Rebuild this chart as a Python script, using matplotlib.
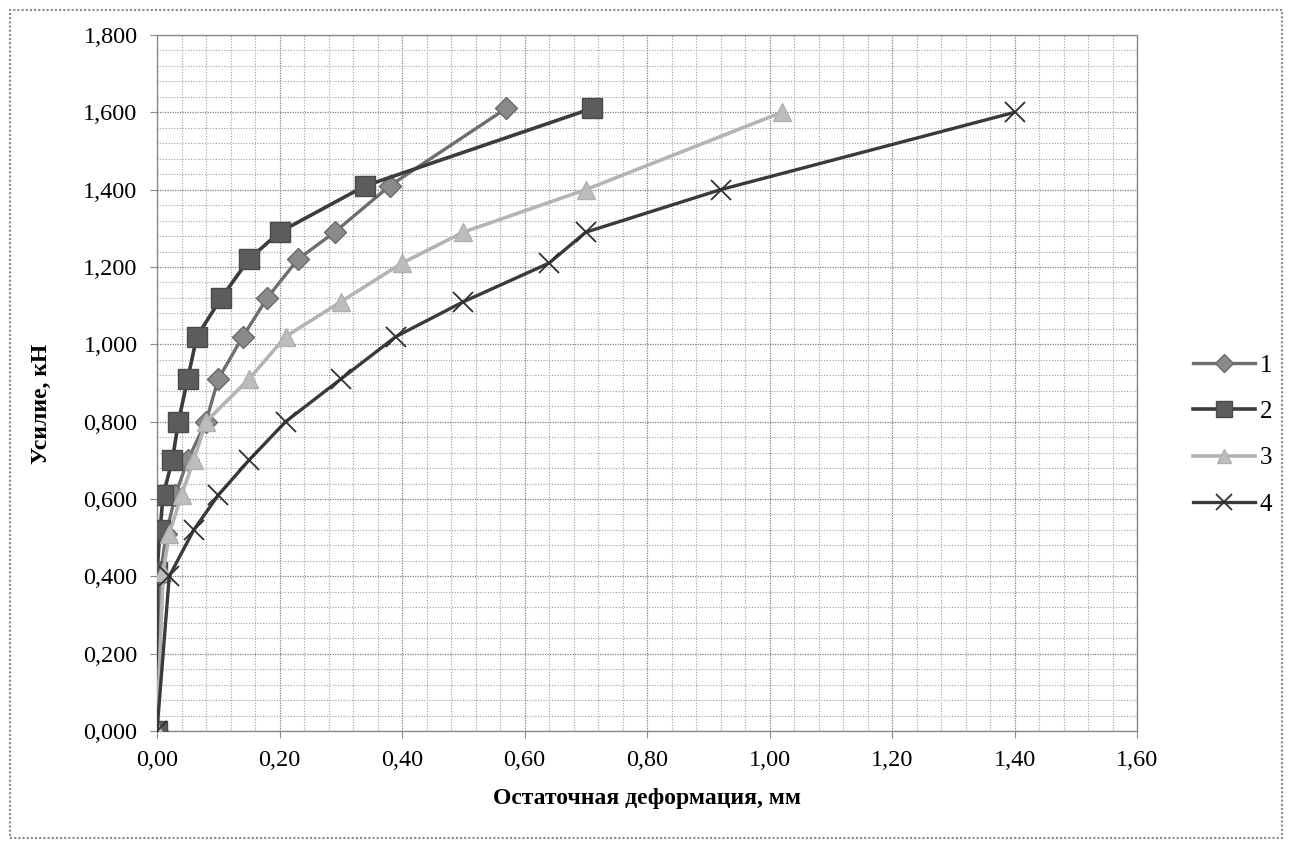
import matplotlib
matplotlib.use("Agg")
import matplotlib.pyplot as plt
from matplotlib.ticker import MultipleLocator, FuncFormatter
from matplotlib.patches import Rectangle

plt.rcParams['font.family'] = ['Liberation Serif', 'DejaVu Serif']

# data
x1 = [0, 0.005, 0.015, 0.03, 0.05, 0.08, 0.10, 0.14, 0.18, 0.23, 0.29, 0.38, 0.57]
y1 = [0, 0.40, 0.51, 0.61, 0.70, 0.80, 0.91, 1.02, 1.12, 1.22, 1.29, 1.41, 1.61]
x2 = [0, 0.0, 0.005, 0.01, 0.025, 0.035, 0.05, 0.065, 0.105, 0.15, 0.20, 0.34, 0.71]
y2 = [0, 0.41, 0.52, 0.61, 0.70, 0.80, 0.91, 1.02, 1.12, 1.22, 1.29, 1.41, 1.61]
x3 = [0, 0.01, 0.02, 0.04, 0.06, 0.08, 0.15, 0.21, 0.30, 0.40, 0.50, 0.70, 1.02]
y3 = [0, 0.41, 0.51, 0.61, 0.70, 0.80, 0.91, 1.02, 1.11, 1.21, 1.29, 1.40, 1.60]
x4 = [0, 0.02, 0.06, 0.10, 0.15, 0.21, 0.30, 0.39, 0.50, 0.64, 0.70, 0.92, 1.40]
y4 = [0, 0.40, 0.52, 0.61, 0.70, 0.80, 0.91, 1.02, 1.11, 1.21, 1.29, 1.40, 1.60]
labels = ['1', '2', '3', '4']

fig = plt.figure(figsize=(12.89, 8.46), dpi=100)
ax = fig.add_axes([157/1289, 1-731/846, (1137-157)/1289, (731-35)/846])

ax.plot(x1, y1, color='#6e6e6e', lw=2.4, marker='D', ms=11, mfc='#8a8a8a', mec='#6a6a6a', label=labels[0], zorder=3)
ax.plot(x2, y2, color='#3c3c3c', lw=2.6, marker='s', ms=14, mfc='#5c5c5c', mec='#4a4a4a', label=labels[1], zorder=3)
ax.plot(x3, y3, color='#b4b4b4', lw=2.6, marker='^', ms=13, mfc='#bdbdbd', mec='#b0b0b0', label=labels[2], zorder=3)
ax.plot(x4, y4, color='#3a3a3a', lw=2.4, marker='x', ms=15, mew=1.3, mec='#303030', label=labels[3], zorder=3)

ax.set_xlim(0, 1.6)
ax.set_ylim(0, 1.8)
ax.xaxis.set_major_locator(MultipleLocator(0.2))
ax.xaxis.set_minor_locator(MultipleLocator(0.04))
ax.yaxis.set_major_locator(MultipleLocator(0.2))
ax.yaxis.set_minor_locator(MultipleLocator(0.04))
ax.xaxis.set_major_formatter(FuncFormatter(lambda v, p: f"{v:.2f}".replace('.', ',')))
ax.yaxis.set_major_formatter(FuncFormatter(lambda v, p: f"{v:.3f}".replace('.', ',')))

ax.grid(which='major', color='#808080', lw=0.9, linestyle=(0, (1, 1)))
ax.grid(which='minor', color='#a0a0a0', lw=0.8, linestyle=(0, (1, 1.5)))
ax.set_axisbelow(True)
for s in ax.spines.values():
    s.set_color('#8a8a8a')
    s.set_linestyle((0, (1, 1)))
    s.set_linewidth(1.0)
ax.tick_params(which='major', length=5, color='#8a8a8a', labelsize=17.5, pad=9)
ax.tick_params(which='minor', length=0)

ax.set_xlabel('Остаточная деформация, мм', fontsize=17, fontweight='bold', labelpad=12)
ax.set_ylabel('Усилие, кН', fontsize=17, fontweight='bold', labelpad=12)
ax.yaxis.set_label_coords(-0.107, 0.47)

leg = fig.legend(loc='center left', bbox_to_anchor=(1180/1289, 1-435/846), frameon=False,
                 fontsize=18, handlelength=2.5, labelspacing=0.95, handletextpad=0.2,
                 borderpad=0, markerscale=0.8)

fig.patches.append(Rectangle((10/1289, 8/846), 1272/1289, 828/846, transform=fig.transFigure,
                             fill=False, edgecolor='#8a8a8a', lw=1.5, linestyle=(0, (1, 1))))

fig.savefig('out.png', dpi=100, facecolor='white')
